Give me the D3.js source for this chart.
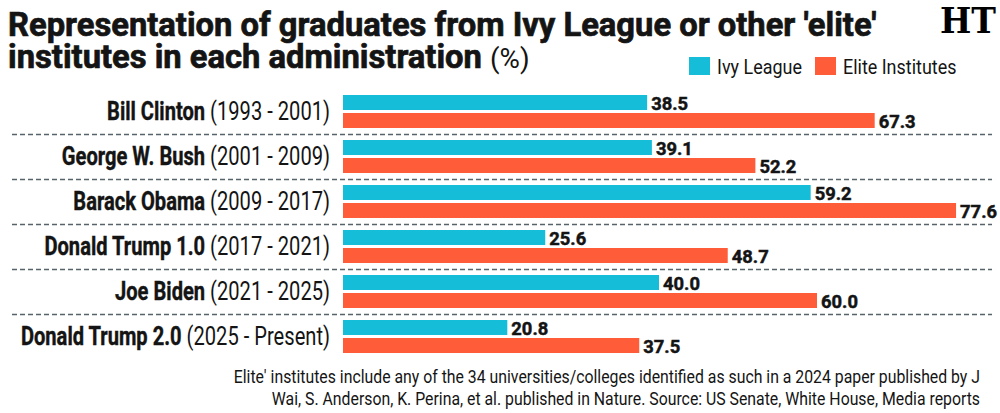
<!DOCTYPE html>
<html>
<head>
<meta charset="utf-8">
<script src="https://cdn.jsdelivr.net/npm/d3@7"></script>
<style>
  body { margin: 0; background: #fff; }
  svg { display: block; font-family: Roboto, "Liberation Sans", sans-serif; }
</style>
</head>
<body>
<div id="chart"></div>
<script>
const presidents = ["Bill Clinton", "George W. Bush", "Barack Obama", "Donald Trump 1.0", "Joe Biden", "Donald Trump 2.0"]
const terms = ["(1993 - 2001)", "(2001 - 2009)", "(2009 - 2017)", "(2017 - 2021)", "(2021 - 2025)", "(2025 - Present)"]
const ivyLeague = [38.5, 39.1, 59.2, 25.6, 40.0, 20.8]
const eliteInstitutes = [67.3, 52.2, 77.6, 48.7, 60.0, 37.5]
const seriesNames = ["Ivy League", "Elite Institutes"]
const footnote = [
    "Elite' institutes include any of the 34 universities/colleges identified as such in a 2024 paper published by J",
    "Wai, S. Anderson, K. Perina, et al. published in Nature. Source: US Senate, White House, Media reports"
]

// the original uses a condensed face, so texts get squeezed sideways to fit
function squeeze(sel, x, y, k){
    sel.attr("x", 0).attr("y", 0)
        .attr("transform", (d, i) => `translate(${typeof x == "function" ? x(d, i) : x},${typeof y == "function" ? y(d, i) : y}) scale(${k},1)`)
}
function fitFactor(node, target){
    return target / node.getComputedTextLength()
}

function drawChart(){
    const width = 1000
    const height = 413
    const colors = ["#16bdd8", "#ff5c39"]
    const ink = "#141414"

    let svg = d3.select("#chart")
        .append("svg")
        .attr("width", width)
        .attr("height", height)

    // title (stroke thickens the bold to match the heavy headline face)
    let t1 = svg.append("text")
        .attr("font-size", 33).attr("font-weight", "bold").attr("fill", ink)
        .attr("stroke", ink).attr("stroke-width", 0.7)
        .text("Representation of graduates from Ivy League or other 'elite'")
    let kTitle = fitFactor(t1.node(), 869)
    squeeze(t1, 8, 36, kTitle)
    let t2 = svg.append("text")
        .attr("font-size", 33).attr("fill", ink)
    t2.append("tspan").attr("font-weight", "bold")
        .attr("stroke", ink).attr("stroke-width", 0.7)
        .text("institutes in each administration ")
    t2.append("tspan").attr("font-size", 28).text("(%)")
    squeeze(t2, 8, 68, kTitle)

    // HT masthead
    let ht = svg.append("text")
        .attr("text-anchor", "end")
        .attr("font-family", "DejaVu Serif, serif")
        .attr("font-weight", "bold")
        .attr("font-size", 36).attr("fill", "#000")
        .text("HT")
    squeeze(ht, 996, 33, fitFactor(ht.node(), 56))

    // legend
    let legend = svg.append("g")
    let lx = [689, 815]
    let kLeg = null
    seriesNames.forEach((name, i) => {
        legend.append("rect")
            .attr("x", lx[i]).attr("y", 57)
            .attr("width", 21).attr("height", 18)
            .attr("fill", colors[i])
        let t = legend.append("text")
            .attr("font-size", 21).attr("fill", ink)
            .text(name)
        if (kLeg == null) kLeg = fitFactor(t.node(), 85)
        squeeze(t, lx[i] + 28, 74, kLeg)
    })

    let y = d3.scaleBand()
        .domain(presidents)
        .range([90, 360])

    let x = d3.scaleLinear()
        .domain([0, 100])
        .range([343, 1133])

    // dashed separators
    svg.append("g")
        .selectAll("line")
        .data(presidents.slice(0, -1))
        .join("line")
        .attr("x1", 12).attr("x2", 992)
        .attr("y1", d => y(d) + 44.5).attr("y2", d => y(d) + 44.5)
        .attr("stroke", "#56636a")
        .attr("stroke-width", 1.4)
        .attr("stroke-dasharray", "5,3")

    let rows = svg.append("g")
        .selectAll("g")
        .data(presidents.map((p, i) => ({name: p, term: terms[i], vals: [ivyLeague[i], eliteInstitutes[i]]})))
        .join("g")
        .attr("transform", d => `translate(0,${y(d.name)})`)

    let lab = rows.append("text")
        .attr("text-anchor", "end")
        .attr("font-size", 25).attr("fill", ink)
    lab.append("tspan").attr("font-weight", "bold")
        .attr("stroke", ink).attr("stroke-width", 0.4)
        .text(d => d.name + " ")
    lab.append("tspan").text(d => d.term)
    squeeze(lab, 330, 30, fitFactor(lab.node(), 223))

    let bars = rows.selectAll("g.bar")
        .data(d => d.vals)
        .join("g")
        .attr("class", "bar")

    bars.append("rect")
        .attr("x", x(0))
        .attr("y", (d, i) => 5 + i * 18)
        .attr("width", d => x(d) - x(0))
        .attr("height", 15)
        .attr("fill", (d, i) => colors[i])

    let vals = bars.append("text")
        .attr("font-size", 19).attr("font-weight", "bold").attr("fill", ink)
        .attr("stroke", ink).attr("stroke-width", 0.5)
        .text(d => d3.format(".1f")(d))
    squeeze(vals, d => x(d) + 4, (d, i) => 20 + i * 18, fitFactor(vals.node(), 37))

    // footnote
    let foot = svg.append("g")
        .selectAll("text")
        .data(footnote)
        .join("text")
        .attr("text-anchor", "end")
        .attr("font-size", 19).attr("fill", ink)
        .text(d => d)
    squeeze(foot, 980, (d, i) => 383 + i * 22, fitFactor(foot.node(), 747))
}

drawChart()
</script>
</body>
</html>
